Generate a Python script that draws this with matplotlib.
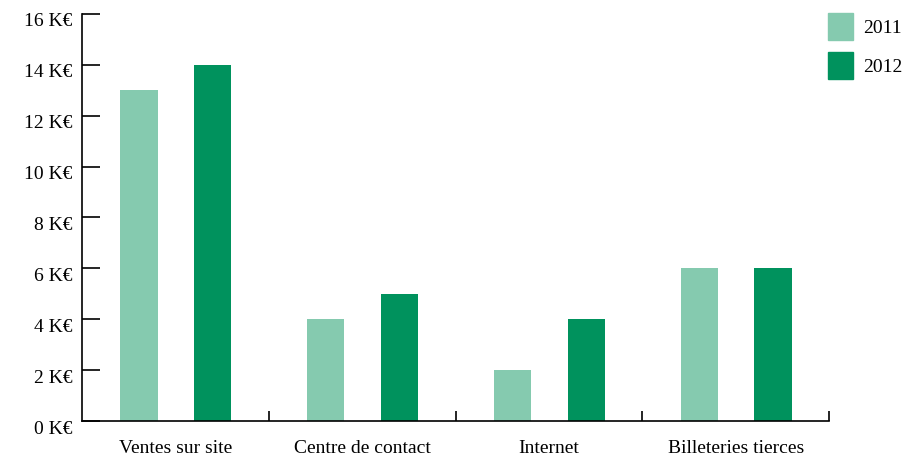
import matplotlib
matplotlib.use('Agg')
import matplotlib.pyplot as plt
import matplotlib.transforms as mtransforms
import numpy as np
from matplotlib.patches import Patch

categories = ['Ventes sur site', 'Centre de contact', 'Internet', 'Billeteries tierces']
years = ['2011', '2012']
values_2011 = [13, 4, 2, 6]
values_2012 = [14, 5, 4, 6]
colors = ['#85caaf', '#00925d']

plt.rcParams['font.family'] = ['Liberation Serif', 'DejaVu Serif']

fig = plt.figure(figsize=(9.06, 4.61), dpi=100)
ax = fig.add_axes([82 / 906, 1 - 421 / 461, (829 - 82) / 906, (421 - 14) / 461])

x = np.arange(len(categories))
w = 0.2
ax.bar(x - 0.195, values_2011, w, color=colors[0], label=years[0])
ax.bar(x + 0.2, values_2012, w, color=colors[1], label=years[1])

ax.set_xlim(-0.5, len(categories) - 0.5)
ax.set_ylim(0, 16)

ax.set_yticks(np.arange(0, 17, 2))
ax.set_yticklabels(['%d K€' % v for v in range(0, 17, 2)], fontsize=14)
ax.tick_params(axis='y', direction='in', length=13, width=1.2, pad=7)
# labels sit slightly below their ticks in the original
shift = mtransforms.ScaledTranslation(0, -6 / 100, fig.dpi_scale_trans)
for lbl in ax.get_yticklabels():
    lbl.set_transform(lbl.get_transform() + shift)

# category boundaries as major ticks, names as minor ticks
ax.set_xticks(np.arange(0.5, len(categories), 1))
ax.set_xticklabels([])
ax.set_xticks(x, minor=True)
ax.set_xticklabels(categories, minor=True, fontsize=14)
ax.tick_params(axis='x', which='major', direction='in', length=7, width=1.2)
ax.tick_params(axis='x', which='minor', length=0, pad=14)

ax.spines['top'].set_visible(False)
ax.spines['right'].set_visible(False)
ax.spines['left'].set_linewidth(1.2)
ax.spines['bottom'].set_linewidth(1.2)

handles = [Patch(color=colors[0]), Patch(color=colors[1])]
fig.legend(handles, years, loc='upper left', bbox_to_anchor=(828 / 906, 1 - 13 / 461),
           frameon=False, fontsize=14, handlelength=1.3, handleheight=1.72,
           labelspacing=0.66, handletextpad=0.5, borderpad=0, borderaxespad=0)

plt.savefig('out.png', dpi=100)
